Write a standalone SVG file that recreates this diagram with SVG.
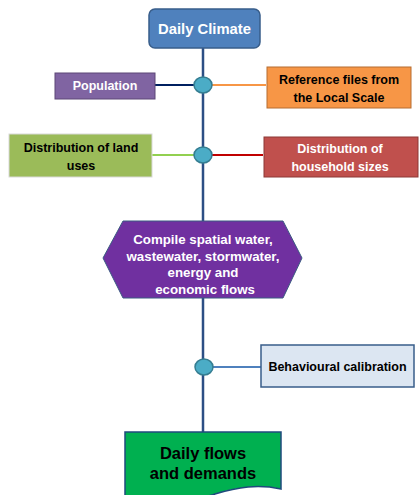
<svg xmlns="http://www.w3.org/2000/svg" width="419" height="495" viewBox="0 0 419 495">
<style>
text{font-family:"Liberation Sans",Arial,sans-serif;font-weight:bold;text-anchor:middle}
.w{fill:#fff}.k{fill:#000}
.b{font-size:12.5px}
.h{font-size:13.3px}
.j{fill:#4BACC6;stroke:#357D91;stroke-width:1.5}
</style>
<rect width="419" height="495" fill="#fff"/>
<g id="connectors" fill="none">
<line x1="203" y1="48" x2="203" y2="432" stroke="#2C4F85" stroke-width="2.5"/>
<line x1="155" y1="85" x2="203" y2="85" stroke="#002060" stroke-width="2"/>
<line x1="203" y1="85" x2="266" y2="85" stroke="#F79646" stroke-width="2"/>
<line x1="152" y1="155" x2="203" y2="155" stroke="#92D050" stroke-width="2"/>
<line x1="203" y1="155" x2="263" y2="155" stroke="#C00000" stroke-width="2"/>
<line x1="203" y1="367" x2="261" y2="367" stroke="#4F81BD" stroke-width="2"/>
</g>
<g id="junction1"><ellipse class="j" cx="203" cy="85" rx="9" ry="8"/></g>
<g id="junction2"><ellipse class="j" cx="203" cy="155" rx="9" ry="8"/></g>
<g id="junction3"><ellipse class="j" cx="204" cy="367" rx="9" ry="8"/></g>
<g id="daily-climate">
<rect x="149" y="9" width="111" height="39" rx="6" fill="#4F81BD" stroke="#385D8A" stroke-width="1.5"/>
<text class="w" x="204.5" y="34" font-size="14.8">Daily Climate</text>
</g>
<g id="population">
<rect x="55" y="73" width="100" height="26" fill="#8064A2" stroke="#5C4776" stroke-width="1"/>
<text class="w b" x="105" y="90">Population</text>
</g>
<g id="reference-files">
<rect x="267" y="67" width="144" height="41" fill="#F79646" stroke="#B66D31" stroke-width="1"/>
<text class="k b" x="339" y="84">Reference files from</text>
<text class="k b" x="339" y="102">the Local Scale</text>
</g>
<g id="land-uses">
<rect x="9" y="134" width="143" height="43" fill="#9BBB59" stroke="#D9D9D9" stroke-width="1"/>
<text class="k b" x="81" y="152">Distribution of land</text>
<text class="k b" x="81" y="170">uses</text>
</g>
<g id="household-sizes">
<rect x="264" y="137" width="154" height="40" fill="#C0504D" stroke="#8C3836" stroke-width="1"/>
<text class="w b" x="340" y="153">Distribution of</text>
<text class="w b" x="340" y="171">household sizes</text>
</g>
<g id="compile-flows">
<polygon points="103,258 123,221 283,221 302,258 283,298 123,298" fill="#7030A0" stroke="#3B5A82" stroke-width="1"/>
<text class="w h" x="203" y="244">Compile spatial water,</text>
<text class="w h" x="203" y="261">wastewater, stormwater,</text>
<text class="w h" x="203" y="277">energy and</text>
<text class="w h" x="205" y="294">economic flows</text>
</g>
<g id="behavioural-calibration">
<rect x="261" y="345" width="153" height="42" fill="#DCE6F2" stroke="#385D8A" stroke-width="1.5"/>
<text class="k b" x="337.5" y="371">Behavioural calibration</text>
</g>
<g id="daily-flows">
<path d="M125,432 H281 V489 C258,484 238,487 215,494 C190,502 150,504 125,500 Z" fill="#00B050" stroke="#1F497D" stroke-width="1.5"/>
<text class="k" x="203" y="459" font-size="16.5">Daily flows</text>
<text class="k" x="203" y="479" font-size="16.5">and demands</text>
</g>
</svg>
